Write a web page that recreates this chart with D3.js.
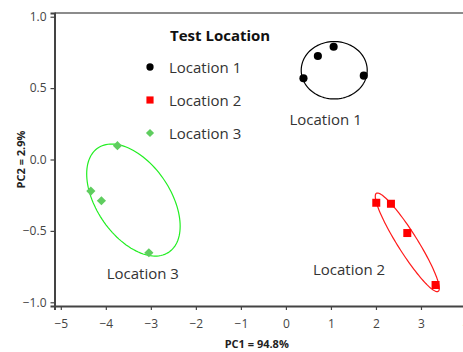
<!DOCTYPE html>
<html>
<head>
<meta charset="utf-8">
<script src="https://cdn.jsdelivr.net/npm/d3@7/dist/d3.min.js"></script>
<style>
  html, body { margin: 0; padding: 0; background: #fff; }
  svg { display: block; }
  text { font-family: "Open Sans", "Noto Sans", sans-serif; }
</style>
</head>
<body>
<svg id="chart" width="463" height="352"></svg>
<script>
// ---- data ----
const groups = ["Location 1", "Location 2", "Location 3"];
const loc1PC1 = [0.39, 0.71, 1.06, 1.73];
const loc1PC2 = [0.569, 0.725, 0.79, 0.587];
const loc2PC1 = [2.007, 2.333, 2.696, 3.324];
const loc2PC2 = [-0.303, -0.31, -0.515, -0.879];
const loc3PC1 = [-3.742, -4.333, -4.098, -3.044];
const loc3PC2 = [0.097, -0.221, -0.289, -0.653];
// ellipse: centre and two conjugate semi-axis vectors (data units)
const ellCentre = [[1.073, 0.625], [2.696, -0.580], [-3.387, -0.284]];
const ellAxisA = [[0.733, 0.0], [0.711, -0.322], [1.038, -0.183]];
const ellAxisB = [[0.0, 0.201], [0.0, -0.125], [0.0, -0.347]];
const xTicks = [-5, -4, -3, -2, -1, 0, 1, 2, 3, 4];
const yTicks = [-1.0, -0.5, 0.0, 0.5, 1.0];
const xTitle = "PC1 = 94.8%";
const yTitle = "PC2 = 2.9%";
const legendTitle = "Test Location";

const markerColor = ["#000000", "#ff0000", "#5fcd5f"];
const ellColor = ["#000000", "#ff1a1a", "#22ee22"];

const svg = d3.select("#chart");
const x = d3.scaleLinear().domain([-5.14, 4.14]).range([54.5, 472.3]);
const y = d3.scaleLinear().domain([-1.026, 1.026]).range([306, 13]);

// frame top line
svg.append("line").attr("x1", x.range()[0]).attr("x2", 463)
  .attr("y1", y.range()[1]).attr("y2", y.range()[1])
  .attr("stroke", "#666").attr("stroke-width", 1.5);

// axes
const xAxis = svg.append("g").attr("transform", `translate(0,${y.range()[0]})`)
  .call(d3.axisBottom(x).tickValues(xTicks).tickFormat(d3.format("d")).tickSize(4).tickPadding(9));
const yAxis = svg.append("g").attr("transform", `translate(${x.range()[0]},0)`)
  .call(d3.axisLeft(y).tickValues(yTicks).tickFormat(d3.format(".1f")).tickSize(4).tickPadding(4));
[xAxis, yAxis].forEach(g => {
  g.select(".domain").attr("stroke", "#444").attr("stroke-width", 2);
  g.selectAll(".tick line").attr("stroke", "#444").attr("stroke-width", 1.2);
  g.selectAll(".tick text").attr("fill", "#444").attr("font-size", 12)
    .style("font-family", '"Open Sans", sans-serif');
});

// axis titles
svg.append("text").attr("x", (x.range()[0] + 463) / 2 - 2).attr("y", 348)
  .attr("text-anchor", "middle").attr("font-size", 11).attr("font-weight", "bold")
  .attr("fill", "#222").text(xTitle);
svg.append("text").attr("transform", `translate(25,${(y.range()[0] + y.range()[1]) / 2}) rotate(-90)`)
  .attr("text-anchor", "middle").attr("font-size", 11).attr("font-weight", "bold")
  .attr("fill", "#222").text(yTitle);

// ellipses
const line = d3.line().x(d => x(d[0])).y(d => y(d[1])).curve(d3.curveLinearClosed);
groups.forEach((g, i) => {
  const pts = d3.range(0, 120).map(k => {
    const t = k / 120 * 2 * Math.PI;
    return [ellCentre[i][0] + Math.cos(t) * ellAxisA[i][0] + Math.sin(t) * ellAxisB[i][0],
            ellCentre[i][1] + Math.cos(t) * ellAxisA[i][1] + Math.sin(t) * ellAxisB[i][1]];
  });
  svg.append("path").attr("d", line(pts)).attr("fill", "none")
    .attr("stroke", ellColor[i]).attr("stroke-width", 1.2);
});

// points
const series = [
  d3.zip(loc1PC1, loc1PC2),
  d3.zip(loc2PC1, loc2PC2),
  d3.zip(loc3PC1, loc3PC2)
];
const symbols = [d3.symbolCircle, d3.symbolSquare, d3.symbolSquare];
const rotations = [0, 0, 45];
const sizes = [52, 64, 42];
series.forEach((s, i) => {
  svg.append("g").selectAll("path").data(s).join("path")
    .attr("d", d3.symbol().type(symbols[i]).size(sizes[i]))
    .attr("transform", d => `translate(${x(d[0])},${y(d[1])}) rotate(${rotations[i]})`)
    .attr("fill", markerColor[i]);
});

// group labels
const labelPos = [[0.08, 0.24], [0.6, -0.81], [-3.98, -0.836]];
groups.forEach((g, i) => {
  svg.append("text").attr("x", x(labelPos[i][0])).attr("y", y(labelPos[i][1]))
    .attr("font-size", 15).attr("fill", "#333").text(g);
});

// legend
const lg = svg.append("g").attr("transform", "translate(150,41)");
lg.append("text").attr("x", 20).attr("y", 0).attr("font-size", 15)
  .attr("font-weight", "bold").attr("fill", "#111").text(legendTitle);
groups.forEach((g, i) => {
  const row = lg.append("g").attr("transform", `translate(0,${26 + i * 33})`);
  row.append("path").attr("d", d3.symbol().type(symbols[i]).size(sizes[i] * 0.8)())
    .attr("transform", `rotate(${rotations[i]})`)
    .attr("fill", markerColor[i]);
  row.append("text").attr("x", 19).attr("y", 6).attr("font-size", 15)
    .attr("fill", "#333").text(g);
});
</script>
</body>
</html>
